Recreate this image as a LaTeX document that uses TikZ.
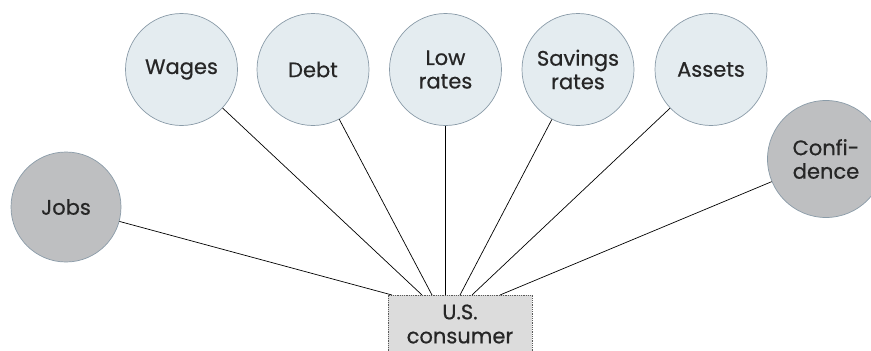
\documentclass[tikz,border=0pt]{standalone}
\usepackage{fontspec}
\setmainfont{Poppins}[FakeBold=0.6]
\begin{document}
\begin{tikzpicture}[x=1pt,y=-1pt,
  every node/.style={font=\fontsize{21}{23.5}\selectfont, text=black!85, align=center},
  factor/.style={circle, draw=bordercol, line width=0.7pt, fill=lightfill, inner sep=0pt, minimum size=112pt},
  driver/.style={factor, fill=darkfill},
  hub/.style={rectangle, draw=black!65, densely dotted, line width=0.8pt, fill=boxfill, inner sep=0pt,
              minimum width=144pt, minimum height=58pt, font=\fontsize{21}{24}\selectfont},
  link/.style={draw=black, line width=0.7pt}]
\definecolor{lightfill}{HTML}{E4ECF0}
\definecolor{darkfill}{HTML}{BEBFC1}
\definecolor{bordercol}{HTML}{8A9BA8}
\definecolor{boxfill}{HTML}{DCDCDC}
\useasboundingbox (0,0) rectangle (871,351);

% central box
\node[hub] (us) at (460,324) {U.S.\\consumer};

% upper row of factors
\node[factor] (wages)   at (181.5,69.5) {Wages};
\node[factor] (debt)    at (313,69.5)   {Debt};
\node[factor] (low)     at (445.5,69.5) {Low\\rates};
\node[factor] (savings) at (578,69.5)   {Savings\\rates};
\node[factor] (assets)  at (711,69.5)   {Assets};

% side factors
\node[driver, minimum size=110pt] (jobs) at (66,207) {Jobs};
\node[driver, minimum size=117pt] (conf) at (826,159) {Confi-\\dence};

% attachment points on the top edge of the box
\coordinate (aJ) at (392,295);
\coordinate (aW) at (422,295);
\coordinate (aD) at (432,295);
\coordinate (aL) at (445.5,295);
\coordinate (aS) at (460,295);
\coordinate (aA) at (472,295);
\coordinate (aC) at (500,295);

\draw[link] (jobs) -- (aJ);
\draw[link] (wages) -- (aW);
\draw[link] (debt) -- (aD);
\draw[link] (low) -- (aL);
\draw[link] (savings) -- (aS);
\draw[link] (assets) -- (aA);
\draw[link] (conf) -- (aC);
\end{tikzpicture}
\end{document}
